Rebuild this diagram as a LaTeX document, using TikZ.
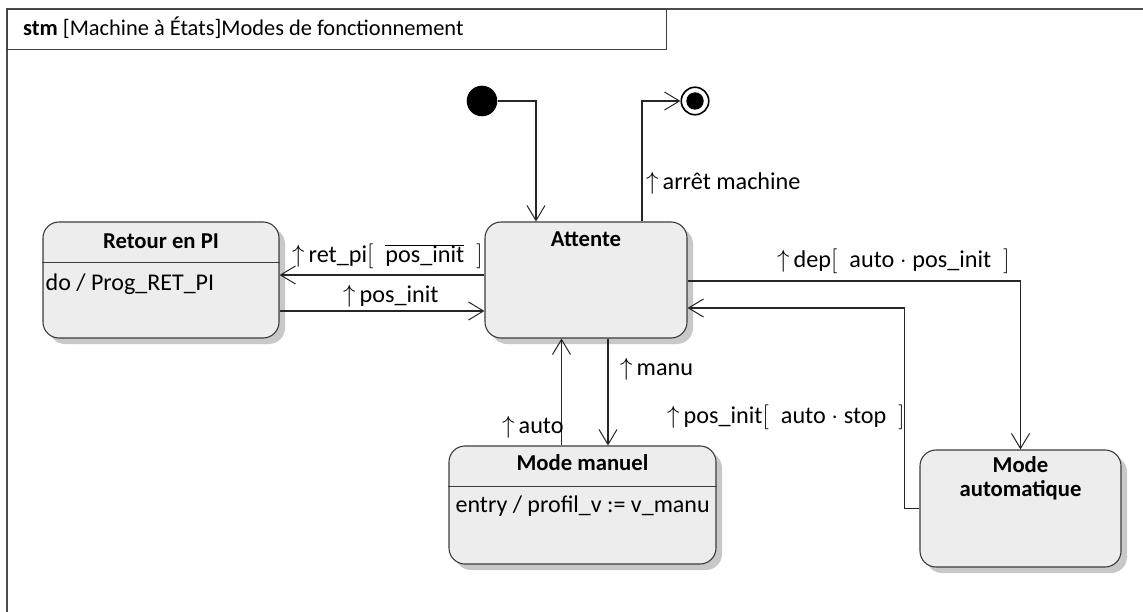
\documentclass[tikz,border=0pt]{standalone}
\usepackage{fontspec}
\setmainfont{Carlito}
\usetikzlibrary{arrows.meta,shadows}

\definecolor{stfill}{HTML}{EDEDED}
\definecolor{stline}{HTML}{3C3C3C}
\definecolor{stshadow}{HTML}{C8C8C8}

\newcommand{\evt}[1]{$\uparrow$\,#1}

\tikzset{
  state/.style={draw=stline, line width=1.1pt, fill=stfill, rounded corners=16pt, inner sep=0pt,
    drop shadow={shadow xshift=6pt, shadow yshift=-6pt, fill=stshadow, opacity=1}},
  stitle/.style={font=\fontsize{22.7}{24}\selectfont\bfseries, inner sep=0pt, align=center},
  sbody/.style={font=\fontsize{24}{28}\selectfont, inner sep=0pt, anchor=west},
  trans/.style={draw=black!85, line width=1.2pt, -{Straight Barb[length=15pt,width=18pt,line width=1pt]}},
  evlabel/.style={font=\fontsize{24.2}{28}\selectfont, inner sep=0pt, anchor=base west},
}

\begin{document}
\begin{tikzpicture}[x=1pt,y=-1pt]
  \useasboundingbox (0,0) rectangle (1143,612);

  \draw[line width=1.3pt, black!70] (7,612) -- (7,9) -- (1143,9);
  \node[draw=black!75, line width=1.1pt, anchor=north west, minimum width=659pt, minimum height=40pt, inner sep=0pt] (hdr) at (7,9) {};
  \node[anchor=base west, inner sep=0pt, font=\fontsize{22.4}{26}\selectfont] (hdrtxt) at (23,36) {\textbf{stm} [Machine à États]Modes de fonctionnement};

  \node[circle, fill=black, minimum size=30.6pt, inner sep=0pt] (init) at (482,101) {};
  \node[circle, draw=black, line width=1.6pt, fill=white, minimum size=27.5pt, inner sep=0pt] (fin) at (695,101) {};
  \fill (fin.center) circle[radius=8.7pt];

  \node[state, minimum width=202pt, minimum height=116pt] (att) at (586,280) {};
  \node[stitle] (attT) at ([yshift=-18pt]att.north) {Attente};

  \node[state, minimum width=236pt, minimum height=116pt] (ret) at (161,280) {};
  \node[stitle] (retT) at ([yshift=-20pt]ret.north) {Retour en PI};
  \draw[stline, line width=1.1pt] ([yshift=-41pt]ret.north west) -- ([yshift=-41pt]ret.north east);
  \node[sbody] (retB) at ([xshift=3pt,yshift=-63pt]ret.north west) {do / Prog\_RET\_PI};

  \node[state, minimum width=267pt, minimum height=118pt] (man) at (582.5,505) {};
  \node[stitle] (manT) at ([yshift=-17pt]man.north) {Mode manuel};
  \draw[stline, line width=1.1pt] ([yshift=-41pt]man.north west) -- ([yshift=-41pt]man.north east);
  \node[sbody] (manB) at ([xshift=7pt,yshift=-61pt]man.north west) {entry / profil\_v := v\_manu};

  \node[state, minimum width=201pt, minimum height=117pt] (aut) at (1020.5,508.5) {};
  \node[stitle] (autT) at ([yshift=-29pt]aut.north) {Mode\\automatique};

  \draw[trans] (init) -| ([xshift=-50pt]att.north);
  \draw[trans] ([xshift=56pt]att.north) |- (fin);
  \draw[trans] ([yshift=5pt]att.west) -- ([yshift=5pt]ret.east);
  \draw[trans] ([yshift=-31pt]ret.east) -- ([yshift=-31pt]att.west);
  \draw[trans] ([yshift=-1pt]att.east) -| (aut.north);
  \draw[trans] (aut.west) -- ++(-15,0) |- ([yshift=-28pt]att.east);
  \draw[trans] ([xshift=-21pt]man.north) -- ([xshift=-21pt]man.north |- att.south);
  \draw[trans] ([xshift=22pt]att.south) -- ([xshift=22pt]att.south |- man.north);

  \node[evlabel] (lstop) at (646,190) {\evt{arrêt machine}};
  \node[evlabel] (lretpi) at (292,263) {\evt{ret\_pi$\Bigl[\enskip\overline{\mbox{pos\_init}}\enskip\Bigr]$}};
  \node[evlabel] (lposinit) at (343,303) {\evt{pos\_init}};
  \node[evlabel] (ldep) at (777,268) {\evt{dep$\Bigl[\enskip\mbox{auto}\cdot\mbox{pos\_init}\enskip\Bigr]$}};
  \node[evlabel] (lretauto) at (667,423) {\evt{pos\_init$\Bigl[\enskip\mbox{auto}\cdot\mbox{stop}\enskip\Bigr]$}};
  \node[evlabel] (lmanu) at (620,375) {\evt{manu}};
  \node[evlabel] (lauto) at (502,433) {\evt{auto}};
\end{tikzpicture}
\end{document}
